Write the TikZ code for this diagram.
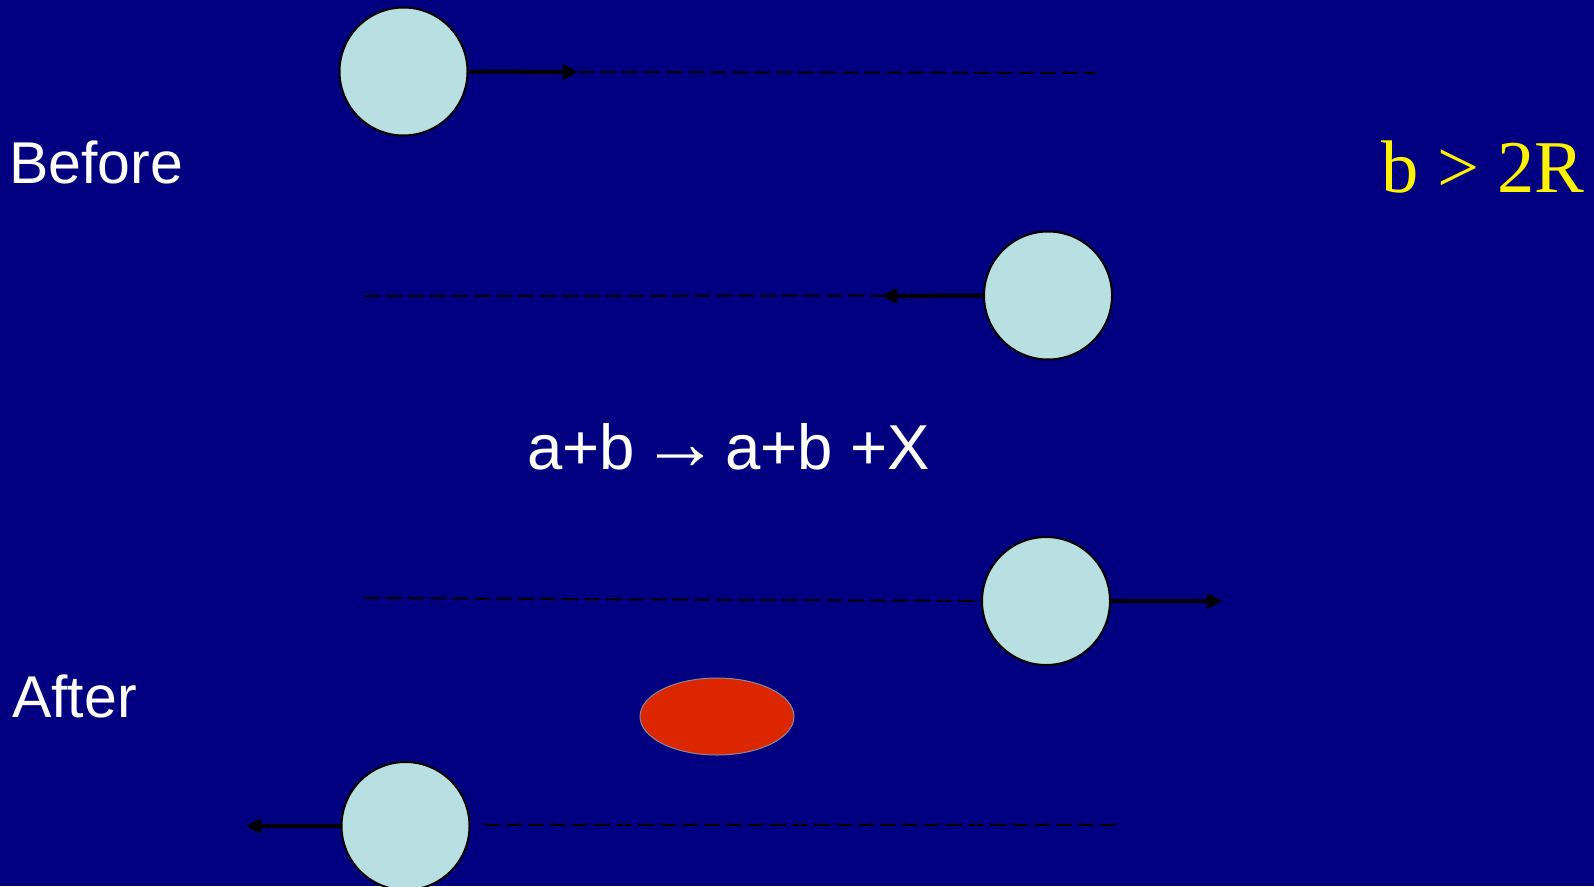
\documentclass[tikz,border=0pt]{standalone}
\usepackage{fontspec}
\setmainfont{Liberation Sans}
\newfontfamily\serifx{Liberation Serif}
\usetikzlibrary{arrows.meta,shapes.geometric}
\definecolor{bgnavy}{HTML}{000080}
\definecolor{ballfill}{HTML}{B8E0E2}
\definecolor{xred}{HTML}{DC2600}
\definecolor{xline}{HTML}{8A8A9A}
\tikzset{
  ball/.style={circle, draw=black, line width=2pt, fill=ballfill, minimum size=128pt, inner sep=0pt},
  movearrow/.style={line width=4pt, -{Triangle[length=15pt,width=15pt]}},
  track/.style={line width=2pt, dash pattern=on 16pt off 6pt},
  lbl/.style={text=white, inner sep=0pt, anchor=base west, font=\fontsize{59}{70}\selectfont},
}
\newcommand{\reactarrow}{\hspace{-11pt}{\serifx\fontsize{78}{80}\selectfont →}\hspace{-12pt}}
\begin{document}
\begin{tikzpicture}[x=1pt,y=-1pt]
\fill[bgnavy] (0,0) rectangle (1594,886);
\useasboundingbox (0,0) rectangle (1594,886);
% tracks
\coordinate (t1a) at (578,72);
\coordinate (t1b) at (1096,73);
\coordinate (t2a) at (364,296);
\coordinate (t2tip) at (882,296);
\coordinate (t3a) at (364,598);
\coordinate (t3tip) at (1222,601);
\coordinate (t4a) at (484,825);
\coordinate (t4b) at (1116,825);
\coordinate (t4tip) at (246,826);
% balls
\node[ball] (c1) at (403.5,71.5) {};
\node[ball] (c2) at (1048,295.5) {};
\node[ball] (c3) at (1046,601) {};
\node[ball] (c4) at (405.5,826) {};
\node[ellipse, draw=xline, line width=1pt, fill=xred, minimum width=154pt, minimum height=77pt, inner sep=0pt] (x) at (717,716.5) {};
% dashed tracks
\draw[track] (t1a) -- (t1b);
\draw[track] (t2a) -- (c2.west);
\draw[track] (t3a) -- (c3.west);
\draw[track] (t4a) -- (t4b);
% motion arrows
\draw[movearrow] (c1.east) -- (t1a);
\draw[movearrow] (c2.west) -- (t2tip);
\draw[movearrow] (c3.east) -- (t3tip);
\draw[movearrow] (c4.west) -- (t4tip);
% labels
\node[lbl] (before) at (9,183) {Before};
\node[lbl] (after) at (12,717) {After};
\node[lbl, font=\fontsize{63.5}{76}\selectfont] (react) at (527,469) {a+b \reactarrow{} a+b +X};
\node[inner sep=0pt, anchor=base west, text=yellow, font=\serifx\fontsize{74.5}{88}\selectfont] (cond) at (1381,192) {b > 2R};
\end{tikzpicture}
\end{document}
